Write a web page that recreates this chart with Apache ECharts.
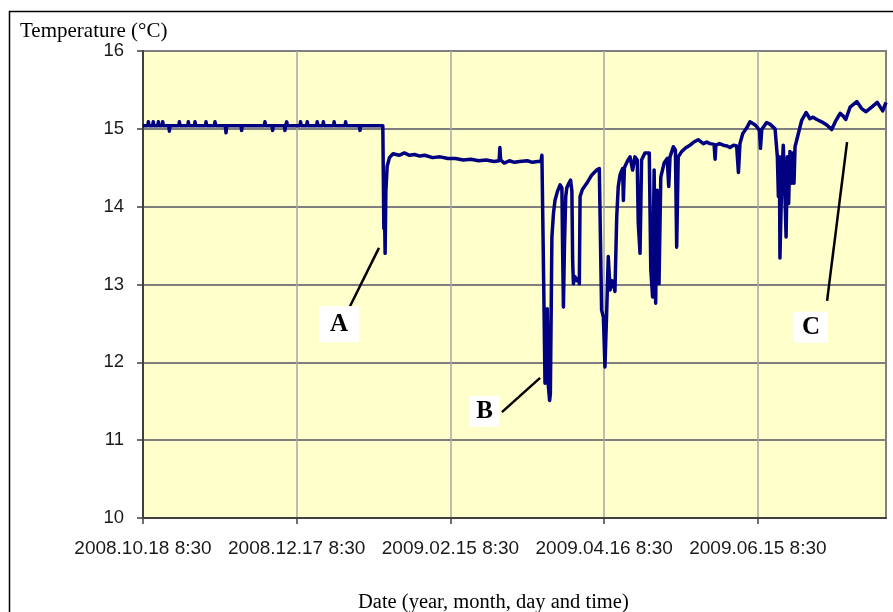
<!DOCTYPE html>
<html>
<head>
<meta charset="utf-8">
<script src="https://cdn.jsdelivr.net/npm/echarts@6/dist/echarts.min.js"></script>
<style>
html,body{margin:0;padding:0;background:#fff;}
#chart{width:893px;height:612px;}
</style>
</head>
<body>
<div id="chart"></div>
<script>
// Days elapsed since 2008.10.18 8:30
const dayOffsets = [
0,1.85,2.1,2.35,3.75,4.0,4.25,5.75,6.0,6.25,7.45,7.7,7.95,10.05,10.3,10.55,13.95,14.2,14.45,17.45,17.7,17.95,20.05,20.3,20.55,24.35,24.6,24.85,27.85,28.1,28.35,32.15,32.4,32.65,38.25,38.5,38.75,47.35,47.6,47.85,50.35,50.6,50.85,55.15,55.4,55.65,55.85,56.1,56.35,61.25,61.5,61.75,63.85,64.1,64.35,67.75,68.0,68.25,70.15,70.4,70.65,74.35,74.6,74.85,78.85,79.1,79.35,84.45,84.7,84.95,93.6,
93.8,94.0,94.2,94.5,94.8,95.3,96.2,97.6,
100,102,104,106,108,110,113,116,119,122,125,128,131,134,137,139.0,139.3,139.6,141,143,145,147,150,152,154,155.3,155.7,156.0,
156.4,156.9,157.4,157.8,158.2,158.7,159.0,159.3,159.6,160.2,160.8,161.8,162.8,163.5,163.8,164.1,164.5,165.0,165.4,166.2,166.9,167.4,167.7,168.0,168.6,169.4,170.0,170.3,170.6,171.5,173.2,175.0,177.1,178.1,178.6,
179.0,179.7,180.3,181.0,181.6,182.3,183.0,183.6,184.2,184.9,185.5,186.2,187.2,187.5,187.9,189.0,190.1,191.1,192.0,192.9,193.3,194.0,194.6,195.9,197.6,198.2,198.9,199.5,200.1,200.7,201.4,202.1,203.4,204.6,205.2,205.7,207.0,207.8,208.3,208.9,210.3,212.0,213.5,215.0,216.7,218.7,220.0,221.3,222.9,223.3,223.6,225.0,226.5,228.0,229.1,230.5,231.7,232.4,233.0,234.1,235.6,236.9,237.6,238.5,239.5,240.6,241.0,241.5,243.4,244.1,244.7,246.7,
247.6,248.0,248.4,248.6,249.3,249.9,250.5,251.0,251.5,252.0,252.5,253.0,253.6,254.1,254.5,255.8,257.1,258.8,260.3,261.5,263.0,264.9,266.9,268.8,270.5,272.1,273.4,274.3,276.0,278.6,280.5,282.2,284.4,286.6,288.7,290.0
];
const temperatures = [
15.04,15.04,15.09,15.04,15.04,15.09,15.04,15.04,15.09,15.04,15.04,15.09,15.04,15.04,14.97,15.04,15.04,15.09,15.04,15.04,15.09,15.04,15.04,15.09,15.04,15.04,15.09,15.04,15.04,15.09,15.04,15.04,14.95,15.04,15.04,14.98,15.04,15.04,15.09,15.04,15.04,14.98,15.04,15.04,14.98,15.04,15.04,15.09,15.04,15.04,15.09,15.04,15.04,15.09,15.04,15.04,15.09,15.04,15.04,15.09,15.04,15.04,15.09,15.04,15.04,15.09,15.04,15.04,14.98,15.04,15.04,
14.40,13.72,14.10,13.40,14.20,14.52,14.63,14.68,
14.66,14.69,14.66,14.67,14.65,14.66,14.63,14.64,14.62,14.62,14.60,14.61,14.59,14.60,14.58,14.59,14.76,14.60,14.56,14.59,14.57,14.58,14.59,14.57,14.58,14.58,14.66,14.68,
13.0,11.73,11.95,12.69,11.70,11.51,11.60,12.60,13.61,13.91,14.08,14.20,14.28,14.24,13.40,12.71,13.50,14.13,14.24,14.30,14.34,14.20,13.30,13.01,13.10,13.05,13.08,13.01,14.13,14.22,14.30,14.40,14.47,14.49,14.48,
12.67,12.58,11.94,12.67,13.36,12.93,13.05,13.01,12.91,13.87,14.26,14.41,14.49,14.08,14.50,14.58,14.64,14.47,14.64,14.60,13.79,13.40,14.60,14.69,14.69,13.19,12.84,14.47,12.76,14.21,13.01,14.38,14.56,14.62,14.26,14.64,14.77,14.73,13.48,14.64,14.71,14.76,14.79,14.83,14.86,14.81,14.83,14.81,14.80,14.61,14.79,14.81,14.79,14.78,14.76,14.79,14.78,14.44,14.81,14.94,15.01,15.09,15.11,15.06,15.03,14.98,14.75,14.99,15.08,15.09,15.06,15.00,
14.64,14.13,14.64,13.34,14.34,14.79,14.21,13.61,14.64,14.04,14.71,14.30,14.69,14.30,14.77,14.94,15.11,15.21,15.13,15.15,15.12,15.09,15.05,14.99,15.11,15.20,15.16,15.12,15.28,15.35,15.26,15.22,15.28,15.34,15.23,15.34
];
const xTickValues = [0, 60, 120, 180, 240];
const xTickLabels = ['2008.10.18 8:30', '2008.12.17 8:30', '2009.02.15 8:30', '2009.04.16 8:30', '2009.06.15 8:30'];
const yTickValues = [10, 11, 12, 13, 14, 15, 16];

const annotationLabels = ['A', 'B', 'C'];
const annotationBoxes = [[76.5, 12.49], [133.3, 11.37], [260.7, 12.45]];
const annotationPointers = [
  [[80.8, 12.72], [92.1, 13.47]],
  [[140.1, 11.36], [155.0, 11.80]],
  [[267.0, 12.79], [274.8, 14.83]]
];

const readings = dayOffsets.map((d, i) => [d, temperatures[i]]);

const chart = echarts.init(document.getElementById('chart'));
const series = [{
  type: 'line',
  data: readings,
  showSymbol: false,
  symbol: 'none',
  lineStyle: { color: '#000080', width: 3.5, join: 'round' },
  z: 3,
  animation: false
}];
annotationPointers.forEach(p => {
  series.push({
    type: 'line', data: p, symbol: 'none', silent: true,
    lineStyle: { color: '#000', width: 2.5 }, z: 4, animation: false
  });
});
const boxSizes = [[40, 36], [30, 31], [34, 31]];
series.push({
  type: 'scatter',
  data: annotationBoxes.map((b, i) => ({ value: b, name: annotationLabels[i], symbolSize: boxSizes[i] })),
  symbol: 'rect',
  itemStyle: { color: '#ffffff', opacity: 1 },
  label: {
    show: true, position: 'inside', formatter: '{b}',
    fontFamily: 'Liberation Serif, Times New Roman, serif', fontWeight: 'bold', fontSize: 25, color: '#000'
  },
  z: 5, animation: false
});

chart.setOption({
  animation: false,
  backgroundColor: '#ffffff',
  title: [{
    text: 'Temperature (°C)', left: 15, top: 16,
    textStyle: { fontFamily: 'Liberation Serif, Times New Roman, serif', fontSize: 21, fontWeight: 'normal', color: '#000' }
  }, {
    text: 'Date (year, month, day and time)', left: 353, top: 587,
    textStyle: { fontFamily: 'Liberation Serif, Times New Roman, serif', fontSize: 20.5, fontWeight: 'normal', color: '#000' }
  }],
  grid: {
    left: 143, right: 7, top: 51, bottom: 94,
    show: true, backgroundColor: '#FFFFCC', borderColor: '#808080', borderWidth: 2
  },
  xAxis: {
    type: 'value', min: 0, max: 290, interval: 60,
    axisLine: { show: true, lineStyle: { color: '#404040', width: 2 } },
    axisTick: { show: true, length: 6, lineStyle: { color: '#404040', width: 1.5 }, customValues: xTickValues },
    axisLabel: {
      customValues: xTickValues,
      formatter: v => xTickLabels[xTickValues.indexOf(v)] || '',
      fontFamily: 'Liberation Sans, Arial, sans-serif', fontSize: 19, color: '#1a1a1a', margin: 21
    },
    splitLine: { show: true, lineStyle: { color: '#a6a6a6', width: 1.5 } }
  },
  yAxis: {
    type: 'value', min: 10, max: 16, interval: 1,
    axisLine: { show: true, lineStyle: { color: '#404040', width: 2 } },
    axisTick: { show: true, length: 6, lineStyle: { color: '#404040', width: 1.5 } },
    axisLabel: {
      formatter: v => yTickValues.indexOf(v) >= 0 ? String(v) : '',
      fontFamily: 'Liberation Sans, Arial, sans-serif', fontSize: 18.5, color: '#1a1a1a', margin: 19
    },
    splitLine: { show: true, lineStyle: { color: '#7f7f7f', width: 2 } }
  },
  graphic: [{
    type: 'rect', silent: true,
    shape: { x: 9.5, y: 11.5, width: 900, height: 640 },
    style: { fill: 'none', stroke: '#000', lineWidth: 1.5 },
    z: 10
  }],
  series: series
});
</script>
</body>
</html>
